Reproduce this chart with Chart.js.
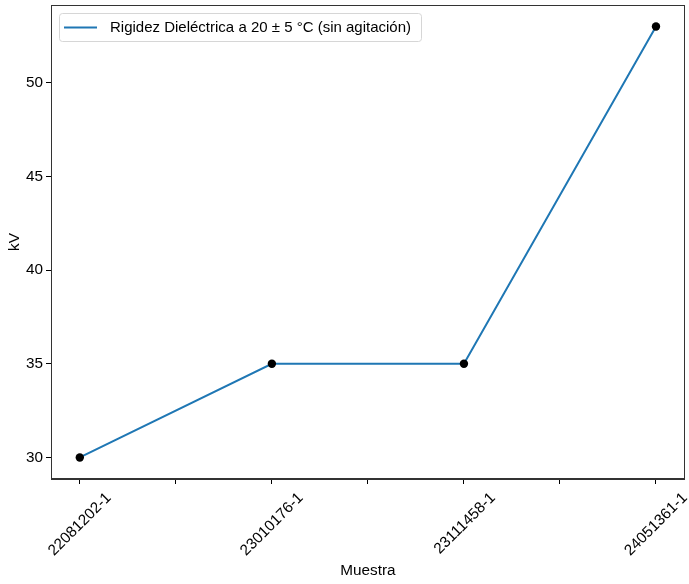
<!DOCTYPE html>
<html>
<head>
<meta charset="utf-8">
<script src="https://cdn.jsdelivr.net/npm/chart.js@4/dist/chart.umd.min.js"></script>
<style>
  html, body { margin: 0; padding: 0; background: #fff; }
  #wrap { width: 689px; height: 584px; }
</style>
</head>
<body>
<div id="wrap"><canvas id="c" width="689" height="584"></canvas></div>
<script>
// Muestras y rigidez dieléctrica medida (kV)
const categories = ['22081202-1', '23010176-1', '23111458-1', '24051361-1'];
const kvValues = [30, 35, 35, 53];
const seriesLabel = 'Rigidez Dieléctrica a 20 ± 5 °C (sin agitación)';
const yTicks = [30, 35, 40, 45, 50];
const xTicks = [0, 0.5, 1, 1.5, 2, 2.5, 3];

const FONT = '"Liberation Sans", Arial, Helvetica, sans-serif';
const FS = 15.3;
const LEGEND_FS = 15;
const points = kvValues.map((v, i) => ({ x: i, y: v }));

// 5% margins around the data range
const yLo = Math.min(...kvValues), yHi = Math.max(...kvValues);
const yPad = (yHi - yLo) * 0.05;
const xPad = (categories.length - 1) * 0.05;

// Full frame around the plotting area
const framePlugin = {
  id: 'frame',
  afterDatasetsDraw(chart) {
    const { ctx, chartArea: a } = chart;
    ctx.save();
    ctx.strokeStyle = '#333';
    ctx.lineWidth = 1;
    ctx.strokeRect(Math.round(a.left) + 0.5, Math.round(a.top) + 0.5,
                   Math.round(a.right - a.left) - 1, Math.round(a.bottom - a.top) - 1);
    ctx.restore();
  }
};

// Legend box inside the upper-left corner of the plot
const insideLegend = {
  id: 'insideLegend',
  afterDraw(chart) {
    const { ctx, chartArea: a } = chart;
    const ds = chart.data.datasets.find(d => d.label);
    ctx.save();
    ctx.font = LEGEND_FS + 'px ' + FONT;
    const tw = ctx.measureText(ds.label).width;
    const x = a.left + 8, y = a.top + 8;
    const w = 61 + tw, h = 28;
    ctx.beginPath();
    ctx.roundRect(x + 0.5, y + 0.5, w, h, 3);
    ctx.fillStyle = 'rgba(255,255,255,0.8)';
    ctx.fill();
    ctx.strokeStyle = '#d6d6d6';
    ctx.lineWidth = 1;
    ctx.stroke();
    ctx.beginPath();
    ctx.moveTo(x + 5, y + 14.5);
    ctx.lineTo(x + 38, y + 14.5);
    ctx.strokeStyle = ds.borderColor;
    ctx.lineWidth = 2;
    ctx.stroke();
    ctx.fillStyle = '#000';
    ctx.textBaseline = 'middle';
    ctx.fillText(ds.label, x + 51, y + 15);
    ctx.restore();
  }
};

new Chart(document.getElementById('c'), {
  type: 'line',
  data: {
    datasets: [
      {
        label: seriesLabel,
        data: points,
        borderColor: '#1f77b4',
        borderWidth: 2,
        pointRadius: 0,
        fill: false,
        tension: 0,
        order: 1
      },
      {
        label: '',
        data: points,
        showLine: false,
        pointRadius: 4.2,
        pointBackgroundColor: '#000',
        pointBorderColor: '#000',
        pointBorderWidth: 0,
        order: 0
      }
    ]
  },
  options: {
    responsive: false,
    animation: false,
    devicePixelRatio: 1,
    layout: { padding: { top: 5, right: 4, left: 0, bottom: 0 } },
    plugins: {
      legend: { display: false },
      tooltip: { enabled: false }
    },
    scales: {
      x: {
        type: 'linear',
        min: -xPad,
        max: categories.length - 1 + xPad,
        afterBuildTicks(scale) { scale.ticks = xTicks.map(v => ({ value: v })); },
        afterFit(scale) {
          scale.height = 105;
          scale.paddingLeft = 0; scale.paddingRight = 0;
        },
        border: { display: true, color: '#333', width: 1 },
        grid: { drawOnChartArea: false, drawTicks: true, tickLength: 5, tickColor: '#000' },
        ticks: {
          autoSkip: false,
          minRotation: 45,
          maxRotation: 45,
          labelOffset: 29,
          padding: 5,
          color: '#000',
          font: { family: FONT, size: FS },
          callback: v => Number.isInteger(v) ? categories[v] : ''
        },
        title: {
          display: true,
          text: 'Muestra',
          color: '#000',
          font: { family: FONT, size: FS },
          padding: { top: 0, bottom: 4 }
        }
      },
      y: {
        type: 'linear',
        min: yLo - yPad,
        max: yHi + yPad,
        afterBuildTicks(scale) { scale.ticks = yTicks.map(v => ({ value: v })); },
        afterFit(scale) {
          scale.width = 51;
          scale.paddingTop = 0; scale.paddingBottom = 0;
        },
        border: { display: true, color: '#333', width: 1 },
        grid: { drawOnChartArea: false, drawTicks: true, tickLength: 5, tickColor: '#000' },
        ticks: {
          padding: 3,
          color: '#000',
          font: { family: FONT, size: FS }
        },
        title: {
          display: true,
          text: 'kV',
          color: '#000',
          font: { family: FONT, size: FS },
          padding: { top: 6, bottom: 4 }
        }
      }
    }
  },
  plugins: [framePlugin, insideLegend]
});
</script>
</body>
</html>
